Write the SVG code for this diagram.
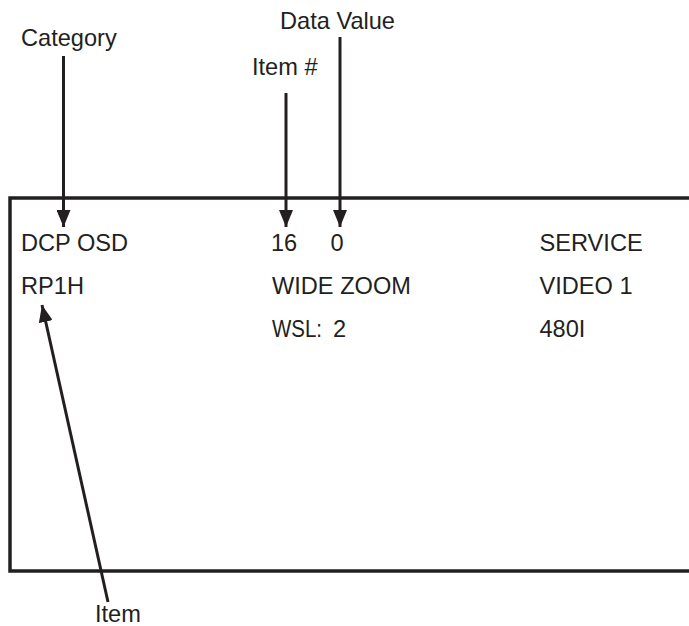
<svg xmlns="http://www.w3.org/2000/svg" width="689" height="626" viewBox="0 0 689 626">
<style>
text{font-family:"Liberation Sans",Arial,sans-serif;font-size:23.6px;fill:#231f20}
.ln{stroke:#231f20;stroke-width:3;fill:none}
.box{stroke:#231f20;stroke-width:3.5;fill:none}
</style>
<defs>
<marker id="ah" markerUnits="userSpaceOnUse" markerWidth="18" markerHeight="14" refX="17" refY="7" orient="auto">
<path d="M0,0 L17,7 L0,14 Z" fill="#231f20"/>
</marker>
</defs>
<rect width="689" height="626" fill="#fff"/>
<g id="screen">
<path class="box" d="M700,198 H10 V571 H700"/>
</g>
<g id="screen-text">
<text x="21" y="251">DCP OSD</text>
<text x="271" y="251">16</text>
<text x="330.5" y="251">0</text>
<text x="539.5" y="251">SERVICE</text>
<text x="21" y="293.5">RP1H</text>
<text x="272" y="293.5">WIDE ZOOM</text>
<text x="539.5" y="293.5">VIDEO 1</text>
<text x="272" y="337" textLength="50" lengthAdjust="spacingAndGlyphs">WSL:</text>
<text x="333" y="337">2</text>
<text x="539.5" y="337">480I</text>
</g>
<g id="label-category"><text x="21" y="46">Category</text></g>
<g id="label-data-value"><text x="280" y="28.5">Data Value</text></g>
<g id="label-item-num"><text x="252" y="74.5">Item #</text></g>
<g id="label-item"><text x="95" y="622">Item</text></g>
<g id="connectors">
<line class="ln" x1="63.5" y1="56" x2="63.5" y2="227" marker-end="url(#ah)"/>
<line class="ln" x1="286" y1="93" x2="286" y2="227" marker-end="url(#ah)"/>
<line class="ln" x1="340" y1="37" x2="340" y2="227" marker-end="url(#ah)"/>
<line class="ln" x1="108" y1="602" x2="42" y2="305" marker-end="url(#ah)"/>
</g>
</svg>
